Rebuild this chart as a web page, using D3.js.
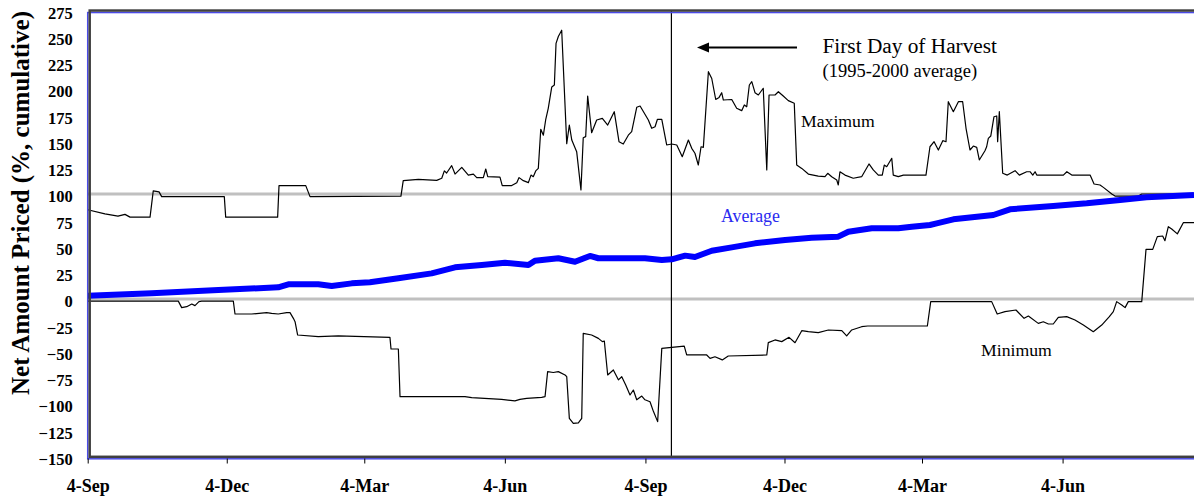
<!DOCTYPE html>
<html>
<head>
<meta charset="utf-8">
<script src="https://cdn.jsdelivr.net/npm/d3@7"></script>
<style>
  html, body { margin: 0; padding: 0; background: #fff; }
  svg { display: block; }
  text { font-family: "Liberation Serif", "Times New Roman", serif; }
</style>
</head>
<body>
<svg id="chart" width="1194" height="502"></svg>
<script>
// ---- data (day offsets from 4-Sep of the first season) ----
const startDate = new Date(Date.UTC(2001, 8, 4));
const endDay = 724;
const harvestDay = 382;

const yTickValues = [275, 250, 225, 200, 175, 150, 125, 100, 75, 50, 25, 0, -25, -50, -75, -100, -125, -150];
const xTickDays = [0, 91, 181, 273, 365, 456, 546, 638];
const gridValues = [0, 100];

const maxDays = [0, 11.3, 19.8, 24.4, 27.7, 40.8, 42.9, 46.7, 48.4, 89.4, 90.3, 124.3, 125.2, 142.7, 145.5, 205, 206.5, 216.4, 228.4, 231.7, 233.4, 234.9, 238.2, 240.4, 244.8, 249.1, 252.4, 254.6, 258.9, 260.5, 261.8, 269.8, 271.3, 277.5, 280.8, 282.3, 285.1, 288.4, 290.1, 291.6, 293.2, 294.9, 296.5, 298.2, 299.7, 301.4, 303.7, 305.4, 306.5, 308, 310.2, 313.5, 315.2, 316.8, 320, 322.8, 324.3, 325.9, 327.2, 329.8, 333.1, 336.8, 340.3, 344.6, 347.7, 350.5, 353.8, 356, 359.3, 361.5, 366.9, 369.1, 371.3, 372.8, 375.7, 378.9, 382.2, 385.5, 389.1, 393.1, 395.3, 397.4, 399.6, 401.4, 402.9, 406.2, 408.4, 411, 413.2, 414.9, 416, 421.5, 424.7, 428, 429.7, 431.3, 433, 434.6, 436.7, 438.9, 442.1, 444.4, 445.9, 449.8, 452, 455.2, 458.5, 462.4, 464, 467.3, 471.6, 478.1, 482.5, 484.3, 486.9, 490.2, 491.2, 492.3, 495.6, 501, 506.5, 511.3, 514.1, 517.4, 520, 521.3, 522.9, 526.2, 527.2, 530.5, 533.8, 548.6, 551.2, 553.9, 556.7, 559.6, 561.7, 563.2, 566.5, 569.8, 572.6, 574.8, 577.4, 579.6, 581.8, 583.5, 587.2, 588.3, 589.4, 591, 593.1, 594.9, 595.5, 596.6, 598.8, 601.8, 606.9, 609.7, 614.5, 616.7, 618.5, 620, 621.1, 638.5, 640.8, 644, 656, 658.6, 662.5, 664.7, 670.2, 672.3, 687.6, 689.8, 724];
const maxValues = [85, 81, 79, 80.6, 78, 78, 103, 102, 97.5, 97.5, 78, 78, 108, 108, 97.5, 98, 112.7, 114, 113, 115, 122, 120, 127, 119, 125.4, 118, 119, 115.6, 115.6, 123.8, 116.5, 116, 108, 108, 110.8, 115.6, 112.7, 110.8, 118, 116.5, 122, 124.4, 161.6, 156, 170.5, 181.6, 202, 203.8, 243.5, 250, 256, 148, 165.7, 151.4, 140.3, 103.8, 153.6, 154.6, 193.3, 158.4, 170.5, 172, 165.7, 178.4, 149.8, 147.6, 156, 159.4, 182.6, 183.8, 170.5, 162.6, 164, 171, 171, 146.7, 147.6, 146.7, 135.5, 151.4, 143.5, 138.8, 127.6, 145, 144.4, 216.5, 210, 190, 192, 196.5, 189.5, 190, 181.6, 179.4, 184.8, 183.1, 203.8, 207, 196.5, 194.3, 200.7, 122.9, 194.3, 194.3, 197.4, 193.3, 188.9, 186.4, 127.6, 124.4, 119, 117, 116.5, 119.7, 116.5, 113.3, 108.6, 121.2, 118, 115, 116.5, 128.6, 122.9, 118, 118, 127.6, 126, 134, 118, 116.5, 118, 118, 145, 149.8, 141.9, 150.8, 149.8, 187.9, 178.4, 187.9, 187.9, 162.6, 141.9, 145.7, 144.4, 132.4, 141.2, 145, 153, 155.2, 173.6, 174.3, 149.8, 178.4, 119.7, 118, 122.2, 118, 121.2, 121.2, 118, 121.2, 118, 118, 121.2, 118, 118, 109.5, 108.6, 106.3, 100, 98, 98, 100, 100];

const minDays = [0, 59.3, 61.5, 64.8, 68.1, 70.2, 72.8, 74.6, 95.3, 96.4, 107.3, 117.1, 120.4, 124.7, 130.2, 132.4, 134.6, 135.7, 137.4, 150.9, 164, 197.8, 198.5, 203.3, 204.4, 246.9, 251.3, 270.9, 279.6, 282.9, 287.3, 297.1, 299.3, 301, 304.7, 308, 312.4, 313.5, 315.2, 317.8, 321.1, 323.3, 324.3, 329.8, 334.2, 336.8, 338.1, 340.3, 344, 347.3, 349.5, 352.1, 354.9, 357.1, 359.3, 362.6, 364.7, 368, 370.2, 373, 375.7, 382.2, 390.4, 392, 405.1, 407.3, 410.5, 415.3, 419.2, 444.4, 445.4, 449.8, 454.2, 459, 462.9, 467.3, 471.6, 478.1, 484.7, 493.5, 496.7, 500, 506.5, 510.5, 549.5, 551.7, 591.6, 595.2, 600.3, 607.5, 612.8, 615.6, 622.1, 625.4, 628.7, 631.9, 635.2, 640.7, 646.1, 651.6, 658.1, 663.6, 668.6, 671.2, 673.4, 676.7, 678.9, 681, 689.8, 692.6, 697, 700, 703.5, 705, 707.2, 709.4, 713.1, 717, 724];
const minValues = [-2, -2, -8.2, -7.3, -4.8, -6.3, -2.5, -2, -2, -14.3, -14.3, -13, -13.7, -14.3, -13, -13, -18.4, -21.6, -34.3, -35.9, -35.2, -36.5, -47.6, -47.6, -93, -93, -94, -95.6, -97, -95.6, -94.6, -93.7, -93, -69.2, -70, -69.2, -72.4, -74, -113.7, -118.4, -118, -113.7, -32.7, -34.3, -37.5, -40.6, -40, -72.4, -67.6, -77, -74, -82, -91.4, -86.7, -96, -92.4, -96, -97.8, -107, -116.8, -47, -46, -44.8, -53.3, -53.3, -56.5, -55, -58, -54.3, -53.3, -41.6, -39, -40.6, -36.5, -41.6, -30.2, -31.1, -32, -29.5, -30.2, -35.2, -29.5, -26.4, -25.7, -25.7, -2.5, -2.5, -14.3, -12, -10.5, -18.4, -16.2, -23.2, -21.7, -23.8, -23.8, -17.5, -16.8, -20, -24.8, -31.1, -24.8, -16.8, -12, -2.5, -5.7, -8.2, -2.5, -2.5, 47.3, 47.3, 59.4, 60, 55.5, 68.9, 66.7, 62, 72.7, 72.7];

const avgDays = [0, 41.9, 85.5, 124.7, 131.3, 150.9, 159.7, 172.8, 184.7, 203.3, 225.1, 240.4, 257.9, 273.1, 288.4, 292.7, 308, 318.9, 328.7, 334.2, 364.7, 375.7, 382.2, 391, 397.4, 408.4, 421.5, 436.7, 456.4, 473.8, 491.2, 497.8, 513.1, 530.5, 539.3, 551.2, 555.6, 566.5, 592.7, 603.6, 631.9, 653.8, 675.6, 693, 724];
const avgValues = [3, 5.4, 8.6, 11.1, 14, 14, 12.4, 14.9, 16, 19.7, 24.4, 30.2, 32.4, 34.6, 32.4, 36.5, 38.8, 35.5, 41, 38.8, 38.8, 37.1, 37.8, 41.3, 40, 46, 49.2, 53, 56.2, 58.4, 59.4, 64.1, 67.3, 67.3, 68.9, 70.5, 72, 75.9, 80, 85.4, 88.6, 91.1, 94.3, 96.8, 99];

const labelTexts = {
  yTitle: "Net Amount Priced (%, cumulative)",
  harvest: "First Day of Harvest",
  harvestSub: "(1995-2000 average)",
  max: "Maximum",
  avg: "Average",
  min: "Minimum"
};

// ---- drawing ----
const svg = d3.select("#chart");
const dayToDate = d => new Date(startDate.getTime() + d * 86400000);

const x = d3.scaleUtc()
  .domain([dayToDate(0), dayToDate(endDay)])
  .range([87.7, 1194]);
const y = d3.scaleLinear().domain([-150, 275]).range([456.5, 10.25]);

const toPts = (days, vals) => days.map((d, i) => ({ date: dayToDate(d), v: vals[i] }));
const line = d3.line().x(d => x(d.date)).y(d => y(d.v));

const plotLeft = x.range()[0], plotRight = x.range()[1];
const plotTop = y(275), plotBottom = y(-150);

// gridlines
svg.append("g").selectAll("line").data(gridValues).join("line")
  .attr("x1", plotLeft).attr("x2", plotRight)
  .attr("y1", d => y(d)).attr("y2", d => y(d))
  .attr("stroke", "#c0c0c0").attr("stroke-width", 3);

// harvest line
const hx = x(dayToDate(harvestDay));
svg.append("line")
  .attr("x1", hx).attr("x2", hx)
  .attr("y1", plotTop).attr("y2", plotBottom)
  .attr("stroke", "#000").attr("stroke-width", 1.2);

// series
svg.append("path").datum(toPts(maxDays, maxValues)).attr("d", line)
  .attr("fill", "none").attr("stroke", "#000").attr("stroke-width", 1.2).attr("stroke-linejoin", "round");
svg.append("path").datum(toPts(minDays, minValues)).attr("d", line)
  .attr("fill", "none").attr("stroke", "#000").attr("stroke-width", 1.2).attr("stroke-linejoin", "round");
svg.append("path").datum(toPts(avgDays, avgValues)).attr("d", line)
  .attr("fill", "none").attr("stroke", "#0000ff").attr("stroke-width", 6).attr("stroke-linejoin", "round");

// frame (blue inner line + dark shadowed frame)
svg.append("rect")
  .attr("x", plotLeft).attr("y", plotTop + 2.3)
  .attr("width", plotRight - plotLeft + 10).attr("height", plotBottom - plotTop)
  .attr("fill", "none").attr("stroke", "#4a4ae6").attr("stroke-width", 1.5);
svg.append("rect")
  .attr("x", plotLeft + 2).attr("y", plotTop + 0.3)
  .attr("width", plotRight - plotLeft + 10).attr("height", plotBottom - plotTop)
  .attr("fill", "none").attr("stroke", "#404040").attr("stroke-width", 2.5);

// x axis
const xAxis = d3.axisBottom(x)
  .tickValues(xTickDays.map(dayToDate))
  .tickFormat(d3.utcFormat("%-d-%b"))
  .tickSize(5).tickSizeOuter(0).tickPadding(16);
const gx = svg.append("g").attr("transform", `translate(0,${plotBottom + 2})`).call(xAxis);
gx.select(".domain").remove();
gx.selectAll("line").attr("stroke", "#000");
gx.selectAll("text").attr("font-size", 18).attr("font-weight", "bold").attr("fill", "#000")
  .style("font-family", "'Liberation Serif', serif");

// y axis
const yAxis = d3.axisLeft(y).tickValues(yTickValues).tickFormat(d3.format("d"))
  .tickSize(0).tickPadding(15);
const gy = svg.append("g").attr("transform", `translate(${plotLeft},2.5)`).call(yAxis);
gy.select(".domain").remove();
gy.selectAll("text").attr("font-size", 16.5).attr("font-weight", "bold").attr("fill", "#000")
  .style("font-family", "'Liberation Serif', serif");

// y title
svg.append("text")
  .attr("transform", "translate(29,203) rotate(-90)")
  .attr("text-anchor", "middle")
  .attr("font-size", 25).attr("font-weight", "bold")
  .text(labelTexts.yTitle);

// annotations: arrow
svg.append("line")
  .attr("x1", 797).attr("x2", 705).attr("y1", 47.5).attr("y2", 47.5)
  .attr("stroke", "#000").attr("stroke-width", 2);
svg.append("path").attr("d", "M697,47.5 L709,42.5 L709,52.5 Z").attr("fill", "#000");

svg.append("text").attr("x", 822.5).attr("y", 53).attr("font-size", 21.3).text(labelTexts.harvest);
svg.append("text").attr("x", 822.5).attr("y", 77).attr("font-size", 18.5).text(labelTexts.harvestSub);
svg.append("text").attr("x", 801).attr("y", 127).attr("font-size", 17.7).text(labelTexts.max);
svg.append("text").attr("x", 721).attr("y", 222).attr("font-size", 17.8).attr("fill", "#2a2af0").text(labelTexts.avg);
svg.append("text").attr("x", 981).attr("y", 356).attr("font-size", 17.7).text(labelTexts.min);
</script>
</body>
</html>
